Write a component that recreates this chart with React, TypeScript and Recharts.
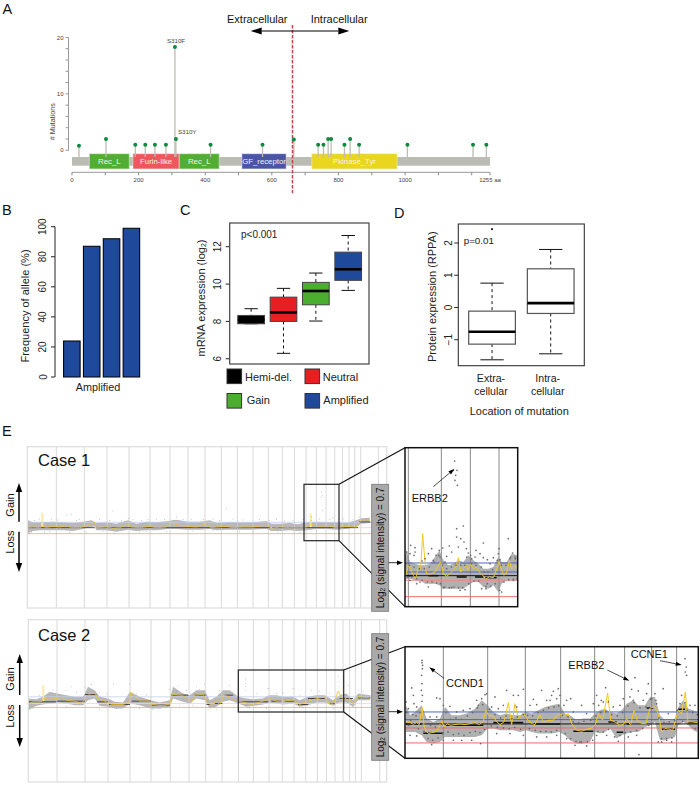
import React from "react";
import {
  ComposedChart, BarChart, Bar, XAxis, YAxis, Scatter, Line, Area, ReferenceLine, ReferenceArea,
} from "recharts";

const FONT = "'Liberation Sans', Arial, sans-serif";

/* ---------- Panel A ---------- */
const mutations = [
  { x: 21, y: 0.8 }, { x: 102, y: 2 }, { x: 190, y: 1 }, { x: 220, y: 1 }, { x: 249, y: 1 }, { x: 282, y: 1 },
  { x: 309, y: 18.3, name: "S310F" }, { x: 312, y: 2, name: "S310Y" }, { x: 416, y: 1 }, { x: 572, y: 1 },
  { x: 666, y: 1.9 }, { x: 739, y: 1 }, { x: 755, y: 1 }, { x: 769, y: 2 }, { x: 778, y: 2 }, { x: 818, y: 1 },
  { x: 835, y: 2 }, { x: 862, y: 1 }, { x: 1007, y: 1 }, { x: 1204, y: 1 }, { x: 1244, y: 1 },
];
const proteinDomains = [
  { name: "Rec_L", from: 52, to: 172, color: "#52AE32" },
  { name: "Furin-like", from: 183, to: 322, color: "#EE585C" },
  { name: "Rec_L", from: 322, to: 442, color: "#52AE32" },
  { name: "GF_receptor", from: 510, to: 643, color: "#4A55A6" },
  { name: "Pkinase_Tyr", from: 720, to: 976, color: "#EAD61E" },
];
const aaTicks = [0, 100, 200, 300, 400, 500, 600, 700, 800, 900, 1000, 1100, 1200, 1255];
const aaLabelled = [0, 200, 400, 600, 800, 1000, 1255];
const mutationTicks = [0, 2, 4, 6, 8, 10, 12, 14, 16, 18, 20];
const mutationLabelled = [0, 10, 20];
const boundaryAa = 662;

/* ---------- Panel B ---------- */
const alleleFreq = [{ c: "a", v: 24 }, { c: "b", v: 87 }, { c: "c", v: 92 }, { c: "d", v: 99 }];
const alleleTicks = [0, 20, 40, 60, 80, 100];

/* ---------- Panel C ---------- */
const mrnaBoxes = [
  { c: "Hemi-del.", lo: 7.875, q1: 7.875, med: 8.1, q3: 8.32, hi: 8.68 },
  { c: "Neutral", lo: 6.29, q1: 8.0, med: 8.48, q3: 9.3, hi: 9.77 },
  { c: "Gain", lo: 8.02, q1: 8.89, med: 9.63, q3: 10.09, hi: 10.59 },
  { c: "Amplified", lo: 9.66, q1: 10.2, med: 10.79, q3: 11.71, hi: 12.6 },
];
const mrnaColors = ["#000000", "#E62020", "#4BAE2F", "#1F4A9B"];
const mrnaTicks = [6, 8, 10, 12];

/* ---------- Panel D ---------- */
const rppaBoxes = [
  { c: "Extra", lo: -1.624, q1: -1.138, med: -0.755, q3: -0.114, hi: 0.755, out: 2.43 },
  { c: "Intra", lo: -1.438, q1: -0.186, med: 0.134, q3: 1.2, hi: 1.8 },
];
const rppaTicks = [-1, 0, 1, 2];
const rppaLabels = [["Extra-", "cellular"], ["Intra-", "cellular"]];

/* ---------- Panel E: values are readings on each panel's own row scale ---------- */
type T3 = [number, number, number];
type T2 = [number, number];

const c1Splits = [170, 254, 322, 388, 451, 511, 565, 616, 665, 713, 760, 806, 848, 884, 919, 950, 979, 1005, 1028, 1048, 1065, 1083, 1136];
const c1Band: T3[] = [[85,300,338],[100,306,332],[120,306,330],[135,305,330],[160,304,330],[190,306,330],[220,308,332],[250,304,326],[275,300,320],[284,304,318],[290,308,330],[320,306,330],[350,310,334],[385,300,328],[410,310,332],[440,304,330],[470,306,330],[505,302,326],[530,298,326],[565,304,328],[600,304,328],[630,300,326],[650,308,330],[680,306,328],[720,306,328],[760,306,328],[800,302,326],[815,310,332],[840,310,332],[870,308,330],[895,312,332],[920,306,330],[950,304,326],[980,306,326],[1010,306,328],[1040,308,326],[1070,300,320],[1085,294,310],[1110,292,308]];
const c1Gold: T2[] = [[85,322],[100,320],[120,322],[128,318],[140,321],[160,318],[180,320],[200,316],[215,322],[240,322],[255,318],[272,312],[285,306],[290,322],[320,320],[340,324],[360,322],[385,312],[395,320],[420,322],[450,318],[470,322],[500,320],[512,308],[530,312],[545,316],[565,318],[590,320],[615,312],[635,322],[650,320],[680,318],[700,322],[730,320],[760,320],[800,314],[815,324],[840,320],[870,322],[900,322],[920,320],[935,312],[960,318],[985,316],[1010,322],[1040,318],[1070,320],[1085,298],[1110,300]];
const c1Segs: T3[] = [[85,285,322],[290,812,322],[818,1075,322],[1078,1112,305]];
const c1Spikes: T3[] = [[128,278,320],[933,280,320]];
const c1Dots: T2[] = [[200,284],[215,282],[340,272],[388,295],[530,290],[612,297],[680,265],[965,215],[967,225],[965,232],[968,270],[935,300],[935,290],[1000,295],[1080,290],[1100,300],[90,340],[120,296],[155,298],[240,298],[300,297],[445,298],[470,296],[520,300],[550,297],[640,296],[700,296],[780,298],[830,297],[880,300],[960,296],[1030,296],[1060,298],[85,338],[135,335],[260,335],[420,335],[500,334],[760,335],[900,336],[105,300],[175,299],[230,300],[330,300],[365,302],[400,298],[425,300],[495,298],[575,298],[660,300],[730,299],[810,300],[855,302],[910,298],[990,298],[1020,296],[95,335],[150,334],[210,336],[310,334],[345,338],[440,334],[580,332],[640,332],[720,333],[835,336],[950,331]];

const c2Splits = [172, 256, 325, 391, 454, 512, 568, 618, 667, 716, 761, 808, 848, 883, 918, 953, 980, 1006, 1030, 1050, 1067, 1085, 1140];
const c2Band: T3[] = [[85,250,285],[110,252,272],[130,245,268],[150,230,265],[172,235,262],[200,240,265],[225,245,270],[250,245,270],[265,215,255],[285,225,250],[300,245,272],[325,250,275],[345,260,280],[370,262,280],[391,230,265],[420,245,270],[454,255,280],[480,262,280],[510,255,275],[520,215,250],[550,235,260],[570,240,265],[590,225,250],[615,225,255],[630,255,280],[650,245,275],[670,225,260],[690,225,255],[716,245,265],[740,250,275],[761,252,272],[790,250,268],[808,240,262],[830,240,265],[850,245,268],[880,245,265],[900,255,275],[925,245,270],[950,240,262],[975,240,262],[1000,255,272],[1020,240,262],[1040,235,262],[1060,255,275],[1075,235,255],[1112,240,255]];
const c2Gold: T2[] = [[85,268],[100,260],[125,260],[131,250],[150,252],[172,250],[185,246],[200,255],[225,258],[245,265],[258,250],[270,236],[285,235],[295,250],[320,260],[335,268],[370,268],[388,262],[393,232],[402,240],[420,258],[450,258],[456,268],[490,272],[510,266],[518,238],[545,240],[565,250],[575,262],[585,240],[610,238],[622,262],[632,268],[650,258],[660,268],[672,240],[690,245],[705,258],[716,258],[735,262],[755,268],[790,258],[810,250],[830,258],[850,258],[880,255],[900,268],[925,258],[945,252],[975,245],[990,268],[1003,262],[1015,228],[1030,255],[1045,245],[1060,265],[1075,245],[1110,248]];
const c2Segs: T3[] = [[85,170,260],[172,256,258],[256,290,238],[292,325,260],[328,391,268],[396,454,258],[456,510,270],[515,566,240],[583,618,240],[620,632,268],[645,668,265],[675,700,240],[716,806,260],[815,845,258],[855,885,258],[895,925,268],[925,975,250],[990,1005,265],[1020,1060,250],[1075,1112,248]];
const c2Spikes: T3[] = [[131,210,258]];
const c2Dots: T2[] = [[342,204],[200,225],[215,215],[255,218],[300,232],[390,208],[510,222],[535,212],[590,215],[615,208],[690,210],[738,190],[738,205],[738,215],[738,225],[805,220],[830,235],[880,220],[935,225],[1015,185],[1018,200],[1015,215],[1045,210],[1075,225],[88,282],[350,280],[460,282],[625,282],[650,282],[750,278],[910,278],[1060,275],[120,240],[160,225],[230,232],[275,208],[320,236],[410,236],[440,240],[530,228],[560,226],[600,222],[660,226],[700,230],[770,236],[850,232],[900,240],[960,228],[990,236],[1090,228],[100,280],[200,275],[300,282],[420,280],[540,270],[580,272],[800,280],[1000,280]];

/* Case 1 enlarged view */
const i1Splits = [25, 124, 211, 297];
const i1Levels = [{ v: 188, c: "#4F66B8" }, { v: 215, c: "#4F66B8" }, { v: 226, c: "#111111" }, { v: 240, c: "#F08A8A" }, { v: 289, c: "#EE6E6E" }];
const i1Band: T3[] = [[15,170,240],[20,150,235],[30,185,235],[45,190,240],[60,195,240],[75,195,250],[90,190,250],[105,170,250],[118,150,255],[130,180,265],[145,195,265],[160,190,265],[175,180,265],[190,185,265],[205,165,255],[220,180,245],[235,190,245],[250,205,260],[265,205,265],[280,200,255],[295,170,275],[305,185,250],[320,185,240],[335,160,240],[352,165,240]];
const i1Gold: T2[] = [[18,222],[25,195],[32,205],[40,225],[47,235],[55,200],[62,205],[68,100],[72,150],[78,215],[85,222],[95,220],[105,215],[115,195],[122,185],[130,220],[140,228],[150,220],[160,210],[168,200],[175,172],[182,215],[190,205],[198,195],[205,210],[212,190],[220,205],[228,200],[238,215],[248,225],[258,235],[268,230],[280,232],[290,205],[297,185],[305,210],[312,225],[320,215],[328,182],[335,205],[345,195],[352,205]];
const i1Segs: T3[] = [[20,50,226],[85,115,226],[170,200,230],[225,250,230],[255,290,232]];
const i1Dots: T2[] = [[164,-118],[160,-90],[171,-90],[167,-75],[165,-60],[172,-45],[190,77],[170,85],[170,110],[182,115],[192,125],[148,137],[128,143],[325,115],[250,128],[297,145],[228,150],[199,145],[205,158],[32,135],[45,142],[45,155],[95,145],[85,160],[155,155],[140,168],[240,160],[250,172],[225,170],[262,178],[280,172],[215,175],[175,140],[118,150],[108,165],[75,175],[30,160],[20,155],[42,165],[100,180],[295,160],[338,158],[345,170],[245,265],[258,265],[262,250],[305,275],[340,240],[50,250],[85,260],[130,262],[155,262],[180,270],[195,268],[60,245],[30,240],[66,182],[120,170],[135,185],[212,165],[300,178],[330,175],[270,190]];
const i1Cloud: T2[] = [[18,190],[22,230],[28,195],[35,230],[42,200],[50,235],[58,205],[66,240],[73,205],[82,245],[88,200],[96,245],[102,185],[110,248],[116,165],[122,250],[128,195],[134,260],[140,205],[148,262],[154,200],[162,260],[168,195],[176,262],[182,195],[188,262],[194,195],[200,170],[206,250],[214,190],[222,242],[228,195],[236,242],[244,200],[252,215],[258,258],[264,215],[272,258],[278,208],[286,250],[292,180],[299,270],[304,195],[312,245],[318,195],[326,238],[332,170],[340,236],[346,175],[351,235]];

/* Case 2 enlarged view */
const i2Splits = [250, 383, 496, 602, 704, 794, 875, 950];
const i2Levels = [{ v: 260, c: "#4F66B8" }, { v: 283, c: "#4F66B8" }, { v: 296, c: "#111111" }, { v: 308, c: "#EE6A6A" }, { v: 353, c: "#EE6A6A" }];
const i2Band: T3[] = [[138,240,320],[150,270,320],[165,260,320],[185,240,330],[200,280,350],[220,290,355],[240,280,350],[255,245,335],[275,270,335],[300,270,335],[320,265,335],[345,250,335],[365,225,330],[383,240,310],[400,260,310],[420,270,315],[440,265,315],[460,270,315],[480,270,320],[497,260,315],[515,265,320],[535,255,325],[555,245,325],[575,240,325],[598,235,320],[615,265,330],[630,270,345],[650,285,355],[670,280,355],[690,280,350],[705,265,320],[720,255,325],[735,250,320],[750,260,310],[770,265,340],[785,255,330],[800,235,325],[820,225,320],[835,240,320],[855,240,305],[870,215,300],[885,215,290],[900,270,345],[915,285,345],[930,285,340],[945,280,335],[955,245,300],[970,225,290],[985,250,300],[1000,255,315],[1012,260,320]];
const i2Gold: T2[] = [[138,290],[150,292],[160,297],[170,292],[178,298],[186,245],[192,300],[198,318],[206,325],[215,322],[225,320],[235,312],[245,285],[252,305],[262,296],[272,300],[285,298],[300,296],[315,298],[330,295],[345,292],[358,298],[370,288],[378,255],[385,270],[400,272],[410,290],[420,298],[432,290],[445,232],[455,298],[465,235],[475,280],[490,262],[500,280],[515,295],[525,298],[540,268],[550,290],[565,285],[580,285],[595,265],[610,272],[625,265],[635,295],[650,315],[665,318],[680,312],[695,308],[705,300],[716,265],[728,285],[743,203],[752,285],[765,290],[780,300],[790,298],[800,280],[812,300],[822,255],[832,285],[845,295],[858,295],[870,248],[885,245],[895,265],[905,320],[915,310],[928,312],[938,315],[948,280],[955,255],[965,265],[976,200],[984,290],[995,290],[1012,292]];
const i2Segs: T3[] = [[138,185,296],[190,250,324],[255,370,300],[400,490,292],[515,600,296],[640,700,318],[745,770,290],[770,790,321],[800,815,296],[860,880,248],[905,945,312],[955,975,252],[985,1012,292]];
const i2Dots: T2[] = [[186,105],[186,112],[188,120],[187,130],[185,150],[186,175],[184,195],[187,210],[186,228],[155,188],[160,210],[162,235],[138,230],[230,218],[240,220],[250,240],[270,243],[350,225],[365,220],[375,208],[380,205],[405,215],[440,195],[460,210],[475,210],[490,192],[520,222],[545,195],[560,225],[575,210],[580,198],[595,190],[600,210],[620,225],[632,220],[665,240],[700,235],[710,210],[737,187],[745,230],[724,225],[790,220],[815,192],[825,157],[835,197],[820,225],[865,175],[885,205],[910,190],[875,220],[975,100],[979,125],[976,140],[980,150],[837,388],[362,355],[250,345],[905,350],[920,345],[660,350],[215,358],[145,250],[170,245],[290,260],[310,255],[330,250],[355,240],[395,245],[415,250],[430,240],[470,245],[510,240],[530,238],[570,225],[590,220],[612,240],[640,260],[680,265],[716,240],[730,230],[760,245],[780,240],[810,215],[850,225],[860,205],[890,235],[925,265],[965,210],[990,240],[1005,240],[210,275],[230,275],[280,345],[305,345],[335,345],[150,330],[170,332],[410,325],[450,325],[490,330],[530,335],[560,335],[590,330],[620,340],[645,360],[680,362],[710,330],[740,330],[775,348],[805,335],[830,330],[895,350],[935,350]];
const i2Cloud: T2[] = [[140,262],[146,300],[152,285],[158,268],[168,272],[175,310],[180,262],[192,318],[197,295],[204,340],[212,300],[218,345],[226,305],[234,338],[242,295],[248,325],[258,262],[264,320],[272,282],[280,328],[288,278],[296,325],[304,282],[312,330],[322,272],[330,322],[338,262],[346,318],[352,248],[360,322],[368,238],[374,312],[388,252],[394,302],[405,268],[412,306],[422,278],[430,308],[438,272],[448,310],[456,280],[464,306],[472,275],[482,312],[490,268],[503,270],[508,310],[518,272],[526,315],[534,262],[542,318],[550,255],[558,318],[566,248],[574,320],[582,245],[590,315],[596,242],[608,270],[616,325],[624,275],[632,340],[640,290],[648,348],[656,292],[664,350],[672,288],[682,350],[692,285],[698,345],[708,272],[714,318],[722,262],[730,320],[738,258],[746,312],[755,268],[764,335],[772,272],[780,330],[788,262],[796,322],[804,242],[812,320],[822,232],[830,315],[840,248],[848,310],[858,245],[866,300],[872,222],[880,295],[888,225],[897,278],[905,340],[912,292],[920,340],[928,290],[936,338],[944,286],[952,255],[960,235],[968,288],[975,232],[982,255],[990,298],[998,262],[1006,310],[1012,268]];

const Dot = (r: number, fill: string) => (p: any) => <circle cx={p.cx} cy={p.cy} r={r} fill={fill} />;

type PanelProps = {
  left: number; top: number; width: number; height: number;
  xDomain: [number, number]; yDomain: [number, number];
  splits: number[]; band: T3[]; gold: T2[]; segs: T3[]; dots: T2[];
  spikes?: T3[];
  levels: { v: number; c: string }[];
  splitColor: string; splitW: number; bandFill: string; bandOpacity: number; goldWidth: number; goldColor: string;
  segWidth: number; dotR: number; dotFill: string; levelW: number;
};

function CnvPanel(p: PanelProps) {
  const bandRows = p.band.map(([x, a, b]) => ({ x, range: [a, b] }));
  const goldRows = p.gold.map(([x, y]) => ({ x, gold: y }));
  const dotRows = p.dots.map(([x, y]) => ({ x, y }));
  return (
    <div style={{ position: "absolute", left: p.left, top: p.top }}>
      <ComposedChart width={p.width} height={p.height} margin={{ top: 0, right: 0, bottom: 0, left: 0 }}>
        <XAxis hide type="number" dataKey="x" domain={p.xDomain} allowDataOverflow />
        <YAxis hide type="number" reversed domain={p.yDomain} allowDataOverflow />
        {p.splits.map((s) => <ReferenceLine key={s} x={s} stroke={p.splitColor} strokeWidth={p.splitW} />)}
        {(p.spikes || []).map(([x, a, b]) => (
          <ReferenceLine key={x} segment={[{ x, y: a }, { x, y: b }]} stroke="#FBE9A6" strokeWidth={2} />
        ))}
        <Area data={bandRows} dataKey="range" stroke="none" fill={p.bandFill} fillOpacity={p.bandOpacity} isAnimationActive={false} dot={false} activeDot={false} />
        <Scatter data={dotRows} dataKey="y" isAnimationActive={false} shape={Dot(p.dotR, p.dotFill)} />
        {p.levels.map((l) => (
          <Line key={l.v} data={[{ x: p.xDomain[0], lv: l.v }, { x: p.xDomain[1], lv: l.v }]} dataKey="lv" stroke={l.c} strokeWidth={p.levelW} dot={false} activeDot={false} isAnimationActive={false} />
        ))}
        {p.segs.map(([a, b, y]) => (
          <Line key={a} data={[{ x: a, seg: y }, { x: b, seg: y }]} dataKey="seg" stroke="#111" strokeWidth={p.segWidth} dot={false} activeDot={false} isAnimationActive={false} />
        ))}
        <Line data={goldRows} dataKey="gold" stroke={p.goldColor} strokeWidth={p.goldWidth} dot={false} activeDot={false} isAnimationActive={false} />
      </ComposedChart>
    </div>
  );
}

function LollipopShape(p: any) {
  const name = p.payload?.name;
  return (
    <g>
      <circle cx={p.cx} cy={p.cy} r={2} fill="#0E8A3E" />
      {name === "S310F" && <text x={p.cx - 8} y={p.cy - 4} fontSize={6.2} fill="#444">{name}</text>}
      {name === "S310Y" && <text x={p.cx + 2} y={p.cy - 5} fontSize={6.2} fill="#444">{name}</text>}
    </g>
  );
}

const rotTick = (fs: number, color = "#222") => (p: any) => (
  <text x={p.x} y={p.y} transform={`rotate(-90 ${p.x} ${p.y})`} textAnchor="middle" fontSize={fs} fill={color} fontFamily={FONT}>
    {String(p.payload.value).replace("-", "\u2212")}
  </text>
);

function BoxShape(o: { colors?: string[]; stroke: string; boxW: number; medW: number }) {
  return (p: any) => {
    const d = p.payload;
    const unit = p.height / (d.q3 - d.q1);
    const Y = (v: number) => p.y + (d.q3 - v) * unit;
    const cx = p.x + p.width / 2;
    const cap = p.width / 4;
    const fill = o.colors ? o.colors[p.index] : "#fff";
    return (
      <g>
        <line x1={cx} x2={cx} y1={Y(d.hi)} y2={Y(d.q3)} stroke="#111" strokeWidth={1} strokeDasharray="3 3" />
        <line x1={cx} x2={cx} y1={Y(d.q1)} y2={Y(d.lo)} stroke="#111" strokeWidth={1} strokeDasharray="3 3" />
        <line x1={cx - cap} x2={cx + cap} y1={Y(d.hi)} y2={Y(d.hi)} stroke="#111" strokeWidth={1} />
        <line x1={cx - cap} x2={cx + cap} y1={Y(d.lo)} y2={Y(d.lo)} stroke="#111" strokeWidth={1} />
        <rect x={p.x} y={p.y} width={p.width} height={p.height} fill={fill} stroke={o.stroke} strokeWidth={o.boxW} />
        <line x1={p.x} x2={p.x + p.width} y1={Y(d.med)} y2={Y(d.med)} stroke="#000" strokeWidth={o.medW} />
        {d.out != null && <circle cx={cx} cy={Y(d.out)} r={1.1} fill="#222" />}
      </g>
    );
  };
}

function Arrow({ x1, y1, x2, y2, w = 1, head = 6, hw = 3 }: any) {
  const a = Math.atan2(y2 - y1, x2 - x1);
  const bx = x2 - head * Math.cos(a), by = y2 - head * Math.sin(a);
  const nx = -Math.sin(a) * hw, ny = Math.cos(a) * hw;
  return (
    <g>
      <line x1={x1} y1={y1} x2={bx} y2={by} stroke="#000" strokeWidth={w} />
      <polygon points={`${x2},${y2} ${bx + nx},${by + ny} ${bx - nx},${by - ny}`} fill="#000" />
    </g>
  );
}

function VText({ x, y, size, children, fill = "#111" }: any) {
  return (
    <text x={x} y={y} transform={`rotate(-90 ${x} ${y})`} textAnchor="middle" dominantBaseline="central" fontSize={size} fill={fill}>
      {children}
    </text>
  );
}

const legendItems = [
  { t: "Hemi-del.", c: mrnaColors[0], x: 227, y: 369, tx: 245, ty: 380.6 },
  { t: "Neutral", c: mrnaColors[1], x: 305, y: 369, tx: 322.7, ty: 380.6 },
  { t: "Gain", c: mrnaColors[2], x: 227, y: 393.5, tx: 246.7, ty: 404.3 },
  { t: "Amplified", c: mrnaColors[3], x: 305, y: 393.5, tx: 323.3, ty: 404.3 },
];

const GreyBox = ({ y, h }: { y: number; h: number }) => (
  <g>
    <rect x={371.7} y={y} width={17} height={h} fill="#A9A9A9" stroke="#777" strokeWidth={0.8} />
    <text x={380.2} y={y + h / 2} transform={`rotate(-90 380.2 ${y + h / 2})`} textAnchor="middle" dominantBaseline="central" fontSize={10} fill="#111">
      Log<tspan fontSize={6.5} dy={2}>2</tspan><tspan dy={-2}> (signal intensity) = 0.7</tspan>
    </text>
  </g>
);

const mainLevelsC1 = [{ v: 306, c: "#C3CEEA" }, { v: 322, c: "#F6CFCF" }, { v: 340, c: "#F2A0A0" }];
const mainLevelsC2 = [{ v: 245, c: "#C3CEEA" }, { v: 265, c: "#F6CFCF" }, { v: 277, c: "#F2A0A0" }];

export default function App() {
  return (
    <div style={{ position: "absolute", left: 0, top: 0, width: 700, height: 787, background: "#fff", overflow: "hidden", fontFamily: FONT }}>
      {/* Panel A */}
      <div style={{ position: "absolute", left: 0, top: 0 }}>
        <ComposedChart width={520} height={200} margin={{ top: 25, right: 15, bottom: 0, left: 0 }}>
          <XAxis type="number" dataKey="x" domain={[-10.5, 1300]} ticks={aaTicks} interval={0} height={27.7} axisLine={false}
            tickSize={3} tickMargin={2} stroke="#888"
            tick={{ fontSize: 6, fill: "#444", fontFamily: FONT }}
            tickFormatter={(v: number) => (aaLabelled.includes(v) ? (v === 1255 ? "1255 aa" : String(v)) : "")} />
          <YAxis type="number" domain={[-3.9, 22.2]} ticks={mutationTicks} interval={0} width={68.5} axisLine={false}
            tickSize={3} tickMargin={2} stroke="#999"
            tick={{ fontSize: 6, fill: "#444", fontFamily: FONT }}
            tickFormatter={(v: number) => (mutationLabelled.includes(v) ? String(v) : "")} />
          <ReferenceLine segment={[{ x: 0, y: -3.9 }, { x: 1255, y: -3.9 }]} stroke="#999" strokeWidth={1} ifOverflow="visible" />
          <ReferenceLine segment={[{ x: -10.5, y: 0 }, { x: -10.5, y: 20 }]} stroke="#999" strokeWidth={1} ifOverflow="visible" />
          {mutations.map((m) => (
            <ReferenceLine key={m.x} segment={[{ x: m.x, y: -1.2 }, { x: m.x, y: m.y }]} stroke="#BDBDB5" strokeWidth={1.3} />
          ))}
          <ReferenceArea x1={0} x2={1255} y1={-2.72} y2={-1.18} fill="#BBBCB3" fillOpacity={1} stroke="none" />
          {proteinDomains.map((d) => (
            <ReferenceArea key={d.from} x1={d.from} x2={d.to} y1={-3.3} y2={-0.6} fill={d.color} fillOpacity={1} stroke="#E8EBDD" strokeWidth={0.6}
              label={{ value: d.name, position: "center", fill: "#F4F2E4", fontSize: 7.8, fontFamily: FONT }} />
          ))}
          <Scatter data={mutations} dataKey="y" isAnimationActive={false} shape={LollipopShape} />
          <ReferenceLine segment={[{ x: boundaryAa, y: 22.2 }, { x: boundaryAa, y: -7.6 }]} stroke="#C2474A" strokeWidth={1.5} strokeDasharray="3.5 1.5" ifOverflow="visible" />
        </ComposedChart>
      </div>

      {/* Panel B */}
      <div style={{ position: "absolute", left: 0, top: 210 }}>
        <BarChart width={150} height={190} data={alleleFreq} margin={{ top: 16.7, right: 9, bottom: 0, left: 0 }}>
          <XAxis dataKey="c" height={23} tick={false} tickLine={false} axisLine={false} padding={{ left: 6.6, right: 0 }} />
          <YAxis type="number" domain={[0, 100]} ticks={alleleTicks} interval={0} width={55} tickSize={4} tickMargin={4.5}
            stroke="#222" tick={rotTick(10)} />
          <Bar dataKey="v" barSize={16.5} fill="#1F4A9B" stroke="#000" strokeWidth={1.1} isAnimationActive={false} />
        </BarChart>
      </div>

      {/* Panel C */}
      <div style={{ position: "absolute", left: 180, top: 210 }}>
        <ComposedChart width={195} height={160} data={mrnaBoxes} margin={{ top: 13, right: 6, bottom: 6, left: 0 }}>
          <XAxis hide dataKey="c" padding={{ left: 5.1, right: 4.8 }} />
          <YAxis type="number" domain={[5.72, 13.27]} ticks={mrnaTicks} interval={0} width={49.7} axisLine={false} tickSize={4} tickMargin={4.2}
            stroke="#222" tick={rotTick(10)} />
          <Bar dataKey={(d: any) => [d.q1, d.q3]} barSize={26.7} isAnimationActive={false}
            shape={BoxShape({ colors: mrnaColors, stroke: "#444", boxW: 1, medW: 2.6 })} />
        </ComposedChart>
      </div>

      {/* Panel D */}
      <div style={{ position: "absolute", left: 400, top: 210 }}>
        <ComposedChart width={190} height={165} data={rppaBoxes} margin={{ top: 14, right: 5.7, bottom: 9.3, left: 0 }}>
          <XAxis hide dataKey="c" padding={{ left: 4.4, right: 4.3 }} />
          <YAxis type="number" domain={[-1.807, 2.59]} ticks={rppaTicks} interval={0} width={58.3} axisLine={false} tickSize={4} tickMargin={2.5}
            stroke="#222" tick={rotTick(10)} />
          <Bar dataKey={(d: any) => [d.q1, d.q3]} barSize={46.7} isAnimationActive={false}
            shape={BoxShape({ stroke: "#555", boxW: 1.2, medW: 2.6 })} />
        </ComposedChart>
      </div>

      {/* Panel E */}
      <CnvPanel left={27.3} top={446.7} width={359.4} height={161.3} xDomain={[82, 1160]} yDomain={[80, 564]}
        splits={c1Splits} band={c1Band} gold={c1Gold} segs={c1Segs} dots={c1Dots} spikes={c1Spikes} levels={mainLevelsC1}
        splitColor="#CFCFCF" splitW={0.8} bandFill="#7E7E7E" bandOpacity={0.55} goldWidth={0.8} goldColor="#EFC330" segWidth={0.7} dotR={0.45} dotFill="#8C8C8C" levelW={0.8} />
      <CnvPanel left={28.3} top={619.7} width={358.4} height={162.3} xDomain={[85, 1160]} yDomain={[14, 502]}
        splits={c2Splits} band={c2Band} gold={c2Gold} segs={c2Segs} dots={c2Dots} spikes={c2Spikes} levels={mainLevelsC2}
        splitColor="#CFCFCF" splitW={0.8} bandFill="#7E7E7E" bandOpacity={0.55} goldWidth={0.8} goldColor="#EFC330" segWidth={0.7} dotR={0.45} dotFill="#8C8C8C" levelW={0.8} />
      <CnvPanel left={405} top={447.7} width={112.7} height={159} xDomain={[15, 353]} yDomain={[-157, 320]}
        splits={i1Splits} band={i1Band} gold={i1Gold} segs={i1Segs} dots={[...i1Dots, ...i1Cloud]} levels={i1Levels}
        splitColor="#8A8A8A" splitW={1} bandFill="#7C7C7C" bandOpacity={0.6} goldWidth={1} goldColor="#F2C81E" segWidth={1.6} dotR={0.85} dotFill="#6A6A6A" levelW={1} />
      <CnvPanel left={405} top={646.7} width={293.3} height={111.6} xDomain={[135, 1015]} yDomain={[65, 400]}
        splits={i2Splits} band={i2Band} gold={i2Gold} segs={i2Segs} dots={[...i2Dots, ...i2Cloud]} levels={i2Levels}
        splitColor="#8A8A8A" splitW={1} bandFill="#7C7C7C" bandOpacity={0.6} goldWidth={1} goldColor="#F2C81E" segWidth={1.6} dotR={0.85} dotFill="#6A6A6A" levelW={1} />

      {/* Labels and frames */}
      <svg width={700} height={787} style={{ position: "absolute", left: 0, top: 0, pointerEvents: "none" }} fontFamily={FONT}>
        <g fontSize={14.5} fill="#111">
          <text x={2.5} y={14}>A</text>
          <text x={2} y={215}>B</text>
          <text x={180} y={214.6}>C</text>
          <text x={394} y={218.3}>D</text>
          <text x={2} y={435.7}>E</text>
        </g>

        <text x={227} y={23} fontSize={11} fill="#111">Extracellular</text>
        <text x={310.7} y={23} fontSize={11} fill="#111">Intracellular</text>
        <Arrow x1={293} y1={31} x2={250.7} y2={31} w={1} head={11} hw={3.4} />
        <Arrow x1={293} y1={31} x2={349.3} y2={31} w={1} head={11} hw={3.4} />
        <VText x={52.7} y={121.7} size={7.2} fill="#444"># Mutations</VText>

        <text x={98} y={391} fontSize={10.8} textAnchor="middle" fill="#222">Amplified</text>
        <VText x={25} y={306} size={11} fill="#222">Frequency of allele (%)</VText>

        <rect x={229.7} y={223} width={139.3} height={141} fill="none" stroke="#444" strokeWidth={1.2} />
        <text x={241} y={237.7} fontSize={10} fill="#222">p&lt;0.001</text>
        <text x={201} y={298} transform="rotate(-90 201 298)" textAnchor="middle" dominantBaseline="central" fontSize={11} fill="#222">
          mRNA expression (log<tspan fontSize={7} dy={2}>2</tspan><tspan dy={-2}>)</tspan>
        </text>
        {legendItems.map((l) => (
          <g key={l.t}>
            <rect x={l.x} y={l.y} width={14.6} height={14.6} fill={l.c} stroke="#333" strokeWidth={1} />
            <text x={l.tx} y={l.ty} fontSize={11} fill="#222">{l.t}</text>
          </g>
        ))}

        <rect x={458.3} y={224} width={126} height={141.7} fill="none" stroke="#333" strokeWidth={1.1} />
        <text x={463.7} y={244.4} fontSize={9.8} fill="#222">p=0.01</text>
        <VText x={431.7} y={296.7} size={11} fill="#222">Protein expression (RPPA)</VText>
        {rppaLabels.map((l, i) => (
          <g key={i} fontSize={10.6} fill="#222" textAnchor="middle">
            <text x={i === 0 ? 491 : 547.7} y={381.5}>{l[0]}</text>
            <text x={i === 0 ? 491 : 547.7} y={395}>{l[1]}</text>
          </g>
        ))}
        <text x={519.3} y={414.8} fontSize={11} textAnchor="middle" fill="#222">Location of mutation</text>

        {/* Case frames */}
        <rect x={27.3} y={446.7} width={359.4} height={161.3} fill="none" stroke="#DDDDDD" strokeWidth={1.2} />
        <rect x={28.3} y={619.7} width={358.4} height={162.3} fill="none" stroke="#DDDDDD" strokeWidth={1.2} />
        <text x={38} y={465.5} fontSize={16.5} fill="#111">Case 1</text>
        <text x={38} y={640.5} fontSize={16.5} fill="#111">Case 2</text>

        {/* Case 1 gain/loss */}
        <VText x={9.5} y={505} size={11}>Gain</VText>
        <VText x={9.5} y={542} size={11}>Loss</VText>
        <Arrow x1={19} y1={521.7} x2={19} y2={483} w={1.5} head={9} hw={3.2} />
        <Arrow x1={19} y1={531.7} x2={19} y2={572} w={1.5} head={9} hw={3.2} />
        {/* Case 2 gain/loss */}
        <VText x={10} y={679} size={11}>Gain</VText>
        <VText x={10} y={716} size={11}>Loss</VText>
        <Arrow x1={19.7} y1={695} x2={19.7} y2={654} w={1.5} head={9} hw={3.2} />
        <Arrow x1={19.7} y1={705} x2={19.7} y2={747} w={1.5} head={9} hw={3.2} />

        {/* Zoom connectors */}
        <line x1={339} y1={484.3} x2={405} y2={447.7} stroke="#111" strokeWidth={1.1} />
        <line x1={339} y1={540.7} x2={405} y2={606.7} stroke="#111" strokeWidth={1.1} />
        <line x1={343.7} y1={670} x2={405} y2={646.7} stroke="#111" strokeWidth={1.1} />
        <line x1={343.7} y1={712} x2={405} y2={758.3} stroke="#111" strokeWidth={1.1} />
        <rect x={304} y={484.3} width={35} height={56.4} fill="none" stroke="#222" strokeWidth={1.2} />
        <rect x={238.3} y={670} width={105.4} height={42} fill="none" stroke="#222" strokeWidth={1.2} />
        <rect x={405} y={447.7} width={112.7} height={159} fill="none" stroke="#111" strokeWidth={1.5} />
        <rect x={405} y={646.7} width={293.3} height={111.6} fill="none" stroke="#111" strokeWidth={1.5} />
        <GreyBox y={484.3} h={127} />
        <GreyBox y={633.7} h={126.6} />
        <Arrow x1={388.7} y1={562.7} x2={403} y2={562.7} w={0.8} head={6} hw={2.2} />
        <Arrow x1={388.7} y1={711.7} x2={403} y2={711.7} w={0.8} head={6} hw={2.2} />

        {/* Gene calls */}
        <g fontSize={11} fill="#111">
          <text x={411.7} y={502}>ERBB2</text>
          <text x={446} y={686.7}>CCND1</text>
          <text x={568.3} y={669}>ERBB2</text>
          <text x={630.7} y={658.3}>CCNE1</text>
        </g>
        <Arrow x1={433.3} y1={486.7} x2={454.3} y2={469} w={0.7} head={6} hw={2} />
        <Arrow x1={444} y1={678.3} x2={429.3} y2={667.3} w={0.7} head={6} hw={2} />
        <Arrow x1={607.3} y1={670} x2={629.3} y2={680.7} w={0.7} head={6} hw={2} />
        <Arrow x1={660} y1={660.7} x2={681.7} y2={665} w={0.7} head={6} hw={2} />
      </svg>
    </div>
  );
}
